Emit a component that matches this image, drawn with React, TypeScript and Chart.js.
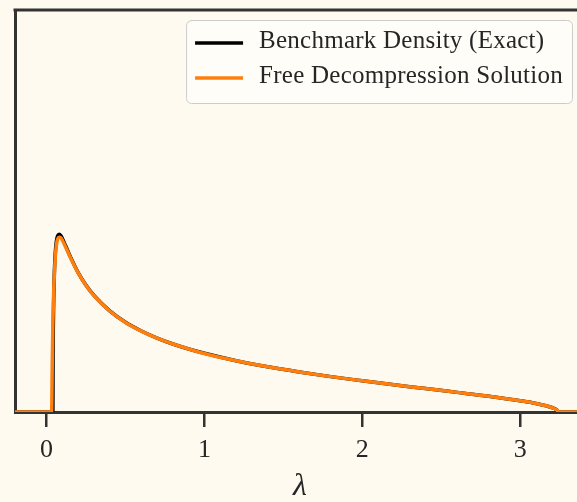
import React, { useEffect, useRef } from 'react';
import { Chart, registerables } from 'chart.js';

Chart.register(...registerables);

// Benchmark (exact) spectral density
const benchLambda = [
  -0.2, 0.0, 0.04, 0.041, 0.042, 0.045, 0.05, 0.055, 0.06, 0.065, 0.07, 0.08, 0.09, 0.1, 0.12,
  0.15, 0.2, 0.25, 0.3, 0.4, 0.5, 0.6, 0.7, 0.8, 0.9, 1.0, 1.2, 1.4, 1.6, 1.8, 2.0, 2.2, 2.4,
  2.6, 2.8, 3.0, 3.1, 3.2, 3.23, 3.24, 3.41,
];
const benchDensity = [
  0, 0, 0, 0.343, 0.474, 0.699, 0.888, 0.988, 1.045, 1.078, 1.096, 1.105, 1.097, 1.079, 1.035,
  0.967, 0.867, 0.788, 0.725, 0.629, 0.558, 0.504, 0.46, 0.423, 0.392, 0.365, 0.319, 0.281, 0.249,
  0.22, 0.194, 0.169, 0.146, 0.122, 0.098, 0.07, 0.053, 0.028, 0.014, 0, 0,
];

// Density recovered by free decompression
const fdLambda = [
  -0.2, 0.0, 0.032, 0.036, 0.04, 0.045, 0.05, 0.055, 0.06, 0.065, 0.07, 0.08, 0.09, 0.1, 0.12,
  0.15, 0.2, 0.25, 0.3, 0.4, 0.5, 0.6, 0.7, 0.8, 0.9, 1.0, 1.2, 1.4, 1.6, 1.8, 2.0, 2.2, 2.4,
  2.6, 2.8, 3.0, 3.1, 3.2, 3.23, 3.245, 3.41,
];
const fdDensity = [
  0, 0, 0, 0.3, 0.55, 0.75, 0.87, 0.96, 1.02, 1.055, 1.075, 1.087, 1.083, 1.068, 1.028,
  0.962, 0.865, 0.787, 0.724, 0.628, 0.557, 0.503, 0.459, 0.423, 0.392, 0.364, 0.319, 0.281, 0.249,
  0.22, 0.194, 0.169, 0.146, 0.122, 0.098, 0.07, 0.053, 0.028, 0.014, 0, 0,
];

const xTicks = [0, 1, 2, 3];
const seriesNames = ['Benchmark Density (Exact)', 'Free Decompression Solution'];
const seriesColors = ['#000000', '#ff7f0e'];

const BG = '#fffaf0';
const AXIS = '#333333';
const TEXT = '#262626';
const SERIF = '"Liberation Serif", "DejaVu Serif", serif';

const framePlugin = {
  id: 'frameAndLegend',
  beforeDraw(chart: any) {
    const { ctx, width, height } = chart;
    ctx.save();
    ctx.fillStyle = BG;
    ctx.fillRect(0, 0, width, height);
    ctx.restore();
  },
  afterDraw(chart: any) {
    const { ctx, chartArea } = chart;
    const { left, right, top, bottom } = chartArea;
    ctx.save();
    // top and right spines
    ctx.strokeStyle = AXIS;
    ctx.lineWidth = 3;
    ctx.lineCap = 'square';
    ctx.beginPath();
    ctx.moveTo(left, top);
    ctx.lineTo(right, top);
    ctx.lineTo(right, bottom);
    ctx.stroke();

    // legend box
    ctx.font = `25px ${SERIF}`;
    ctx.letterSpacing = '0.25px';
    const widths = chart.data.datasets.map((d: any) => ctx.measureText(d.label).width);
    const textW = Math.max(...widths);
    const padX = 9;
    const handle = 48;
    const gap = 16;
    const boxW = padX + handle + gap + textW + padX;
    const boxH = 83;
    const boxR = right - 13;
    const boxL = boxR - boxW;
    const boxT = top + 10;
    ctx.beginPath();
    ctx.roundRect(boxL + 0.5, boxT + 0.5, boxW, boxH, 5);
    ctx.fillStyle = 'rgba(255,253,248,0.9)';
    ctx.fill();
    ctx.strokeStyle = '#cccccc';
    ctx.lineWidth = 1;
    ctx.stroke();

    chart.data.datasets.forEach((d: any, i: number) => {
      const cy = boxT + 23 + i * 35;
      ctx.strokeStyle = d.borderColor;
      ctx.lineWidth = 3.5;
      ctx.lineCap = 'butt';
      ctx.beginPath();
      ctx.moveTo(boxL + padX, cy);
      ctx.lineTo(boxL + padX + handle, cy);
      ctx.stroke();
      ctx.fillStyle = TEXT;
      ctx.textAlign = 'left';
      ctx.textBaseline = 'alphabetic';
      ctx.fillText(d.label, boxL + padX + handle + gap, cy + 4.5);
    });
    ctx.restore();
  },
};

export default function App() {
  const ref = useRef<HTMLCanvasElement>(null);

  useEffect(() => {
    const canvas = ref.current;
    if (!canvas) return;
    const chart = new Chart(canvas, {
      type: 'line',
      data: {
        datasets: [
          {
            label: seriesNames[0],
            data: benchLambda.map((x, i) => ({ x, y: benchDensity[i] })),
            borderColor: seriesColors[0],
            backgroundColor: seriesColors[0],
            borderWidth: 3.5,
            pointRadius: 0,
            cubicInterpolationMode: 'monotone',
            order: 1,
          },
          {
            label: seriesNames[1],
            data: fdLambda.map((x, i) => ({ x, y: fdDensity[i] })),
            borderColor: seriesColors[1],
            backgroundColor: seriesColors[1],
            borderWidth: 3.5,
            pointRadius: 0,
            cubicInterpolationMode: 'monotone',
            order: 0,
          },
        ],
      },
      options: {
        responsive: false,
        animation: false,
        devicePixelRatio: 1,
        layout: { padding: { left: 15, top: 10, right: 5, bottom: 0 } },
        plugins: { legend: { display: false }, tooltip: { enabled: false } },
        scales: {
          x: {
            type: 'linear',
            min: -0.2,
            max: 3.41,
            afterBuildTicks: (s: any) => {
              s.ticks = xTicks.map((v) => ({ value: v }));
            },
            afterFit: (s: any) => {
              s.height = 90;
            },
            ticks: {
              font: { family: SERIF, size: 26 },
              color: TEXT,
              padding: 8,
              maxRotation: 0,
              autoSkip: false,
              callback: (v: any) => String(v),
            },
            grid: {
              drawOnChartArea: false,
              drawTicks: true,
              tickLength: 15,
              tickWidth: 2.5,
              tickColor: AXIS,
              color: AXIS,
              lineWidth: 2.5,
            },
            border: { display: true, color: AXIS, width: 3 },
            title: {
              display: true,
              text: 'λ',
              color: TEXT,
              font: { family: SERIF, size: 32, style: 'italic', lineHeight: 0.94 },
              padding: 0,
            },
          },
          y: {
            min: 0,
            max: 2.5,
            afterFit: (s: any) => {
              s.width = 0;
            },
            ticks: { display: false },
            grid: { display: false, drawTicks: false },
            border: { display: true, color: AXIS, width: 3 },
          },
        },
      },
      plugins: [framePlugin],
    } as any);
    return () => chart.destroy();
  }, []);

  return (
    <div
      style={{
        position: 'fixed',
        left: 0,
        top: 0,
        width: 577,
        height: 502,
        overflow: 'hidden',
        background: BG,
      }}
    >
      <canvas ref={ref} width={590} height={502} style={{ display: 'block', width: 590, height: 502 }} />
    </div>
  );
}
